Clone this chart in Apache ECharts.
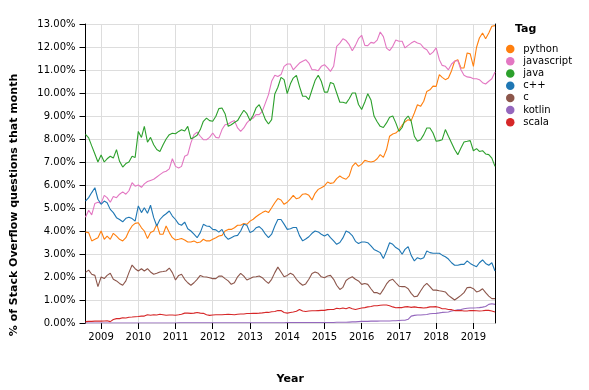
<!DOCTYPE html>
<html><head><meta charset="utf-8">
<script src="https://cdn.jsdelivr.net/npm/echarts@6/dist/echarts.min.js"></script>
<style>html,body{margin:0;padding:0;background:#fff}#c{width:589px;height:390px}</style>
</head><body><div id="c"></div>
<script>
// Monthly data, Aug 2008 .. Aug 2019 (% of Stack Overflow questions that month)
const START_YEAR = 2008, START_MONTH = 7;
const tags = ['python', 'javascript', 'java', 'c++', 'c', 'kotlin', 'scala'];
const yTickValues = [0,1,2,3,4,5,6,7,8,9,10,11,12,13];

const python = [3.95,3.93,3.57,3.64,3.71,
 4.0,3.64,3.78,3.64,3.9,3.78,3.64,3.57,3.71,4.0,
 4.22,4.33,4.36,4.14,4.0,3.67,3.93,4.0,4.29,3.86,
 3.86,4.22,3.93,3.71,3.61,3.64,3.67,3.61,3.52,3.52,
 3.57,3.49,3.52,3.64,3.57,3.57,3.64,3.71,3.78,3.81,
 4.0,4.07,4.07,4.14,4.25,4.25,4.33,4.29,4.43,4.51,
 4.62,4.72,4.8,4.87,4.8,5.01,5.23,5.41,5.35,5.16,
 5.25,5.4,5.55,5.4,5.45,5.6,5.62,5.55,5.35,5.64,
 5.81,5.88,5.96,6.13,6.07,6.1,6.28,6.39,6.3,6.25,
 6.4,6.81,6.96,6.81,6.91,7.07,7.03,7.0,7.03,7.14,
 7.32,7.2,7.54,8.12,8.22,8.26,8.4,8.6,8.74,8.84,
 8.8,9.13,9.49,9.42,9.64,10.07,10.14,10.3,10.29,10.8,
 10.68,10.58,10.65,10.97,11.38,11.45,11.09,11.09,11.74,11.7,
 11.16,11.99,12.39,12.61,12.36,12.61,12.9,12.93];

const javascript = [4.6,4.9,4.7,5.2,5.25,
 5.2,5.55,5.45,5.25,5.5,5.45,5.6,5.7,5.6,5.75,
 6.1,5.95,6.0,5.9,6.05,6.15,6.2,6.25,6.35,6.45,
 6.55,6.6,6.7,7.14,6.81,6.74,6.81,7.25,7.32,7.83,
 8.19,8.3,8.12,7.97,7.97,8.07,8.26,8.07,8.04,8.41,
 8.62,8.65,8.74,8.8,8.48,8.33,8.48,8.7,8.84,8.91,
 9.06,9.06,9.2,9.57,9.93,10.51,10.77,10.72,10.8,11.16,
 11.26,11.26,11.01,11.16,11.3,11.38,11.45,11.3,11.01,11.01,
 10.97,11.16,11.23,11.09,10.94,11.16,12.03,12.17,12.36,12.28,
 12.1,11.84,12.07,12.36,12.51,12.07,12.06,12.2,12.17,12.3,
 12.65,12.45,11.95,11.84,12.03,12.3,12.25,12.25,11.96,12.07,
 12.17,12.25,12.17,12.13,11.96,11.88,11.67,11.78,11.96,11.45,
 11.2,11.16,11.01,11.26,11.38,11.41,11.01,10.77,10.7,10.68,
 10.62,10.62,10.58,10.45,10.39,10.51,10.62,10.91];

const java = [8.2,8.05,7.7,7.35,7.0,
 7.3,7.0,7.14,7.25,7.17,7.54,7.03,6.78,6.93,7.0,
 7.25,7.2,8.33,8.07,8.55,7.86,8.07,7.75,7.54,7.46,
 7.75,8.0,8.19,8.25,8.23,8.33,8.4,8.35,8.55,8.01,
 8.07,8.16,8.41,8.77,8.91,8.8,8.77,8.99,9.32,9.35,
 9.1,8.55,8.62,8.72,8.8,9.03,9.25,9.1,8.8,9.03,
 9.35,9.49,9.2,8.84,8.65,8.84,9.96,10.25,10.68,10.58,
 9.97,10.4,10.65,10.77,10.29,9.86,9.86,9.71,10.14,10.54,
 10.77,10.51,10.04,10.04,10.46,10.4,10.0,9.6,9.6,9.55,
 9.75,10.0,10.0,9.5,9.28,9.61,9.97,9.7,9.0,8.75,
 8.55,8.5,8.7,8.95,9.0,8.7,8.33,8.5,8.84,9.0,
 8.77,8.12,7.9,7.97,8.19,8.48,8.48,8.26,7.9,7.93,
 7.97,8.41,8.12,7.83,7.54,7.32,7.61,7.87,7.9,7.93,
 7.49,7.58,7.46,7.49,7.35,7.32,7.17,6.81];

const cpp = [5.3,5.45,5.67,5.88,5.38,
 5.16,5.3,5.23,4.94,4.8,4.58,4.5,4.4,4.55,4.6,
 4.54,4.43,5.09,4.8,5.01,4.77,5.12,4.58,4.22,4.5,
 4.65,4.75,4.87,4.65,4.5,4.3,4.25,4.39,4.1,4.0,
 3.86,3.71,3.93,4.29,4.22,4.2,4.07,4.05,3.95,4.07,
 3.78,3.64,3.71,3.78,3.81,4.0,4.29,4.25,3.93,4.0,
 4.14,4.19,4.07,3.86,3.71,3.86,4.22,4.5,4.5,4.3,
 4.07,4.1,4.15,4.15,3.8,3.57,3.65,3.75,3.9,4.0,
 3.96,3.86,3.78,3.86,3.71,3.57,3.42,3.5,3.7,4.0,
 3.93,3.8,3.55,3.46,3.52,3.52,3.49,3.35,3.2,3.13,
 3.06,2.8,3.13,3.49,3.42,3.28,3.2,2.99,3.2,3.32,
 2.94,2.7,2.84,2.78,2.84,3.13,3.06,3.03,3.03,3.03,
 2.95,2.88,2.78,2.62,2.51,2.51,2.55,2.55,2.7,2.59,
 2.51,2.45,2.62,2.74,2.59,2.51,2.62,2.26];

const c = [2.2,2.3,2.12,2.07,1.58,
 2.0,1.93,2.07,2.16,1.9,1.83,1.72,1.64,1.83,2.19,
 2.52,2.36,2.26,2.36,2.26,2.36,2.22,2.12,2.16,2.22,
 2.24,2.26,2.39,2.19,1.87,2.07,2.12,1.9,1.75,1.64,
 1.75,1.9,2.07,2.01,2.0,1.97,1.93,1.93,2.04,2.04,
 1.93,1.83,1.68,1.75,2.01,2.16,2.04,1.87,1.93,2.0,
 2.01,2.04,1.97,1.83,1.72,1.9,2.19,2.43,2.22,2.01,
 2.07,2.16,2.1,1.9,1.75,1.64,1.7,1.9,2.15,2.22,
 2.16,2.01,1.97,2.04,2.07,1.9,1.64,1.46,1.55,1.85,
 1.95,2.01,1.9,1.83,1.68,1.72,1.68,1.49,1.32,1.32,
 1.25,1.46,1.7,1.85,1.9,1.75,1.6,1.58,1.58,1.49,
 1.29,1.14,1.17,1.39,1.6,1.72,1.58,1.43,1.43,1.4,
 1.38,1.35,1.2,1.1,1.0,1.1,1.2,1.32,1.54,1.55,
 1.49,1.35,1.39,1.49,1.32,1.17,1.06,1.06];

const kotlin = [0,0,0,0,0,0,0,0,0,0,
 0,0,0,0,0,0,0,0,0,0,
 0,0,0,0,0,0,0,0,0,0,
 0.01,0.01,0.01,0.01,0.01,0.01,0.01,0.01,0.01,0.01,
 0.01,0.01,0.01,0.01,0.01,0.01,0.01,0.01,0.01,0.01,
 0.01,0.01,0.01,0.01,0.01,0.01,0.01,0.01,0.01,0.01,
 0.01,0.01,0.01,0.01,0.01,0.02,0.02,0.02,0.02,0.02,
 0.02,0.02,0.02,0.02,0.02,0.02,0.02,0.02,0.02,0.02,
 0.02,0.03,0.03,0.03,0.03,0.04,0.05,0.05,0.06,0.07,
 0.07,0.07,0.08,0.08,0.08,0.09,0.09,0.09,0.09,0.1,
 0.1,0.11,0.12,0.12,0.16,0.3,0.33,0.35,0.35,0.36,
 0.37,0.4,0.41,0.42,0.44,0.46,0.47,0.48,0.52,0.54,
 0.57,0.59,0.62,0.64,0.65,0.65,0.66,0.67,0.69,0.72,
 0.81,0.84,0.81];

const scala = [0.06,0.07,0.07,0.08,0.08,
 0.08,0.09,0.1,0.06,0.15,0.19,0.19,0.23,0.22,0.25,
 0.26,0.27,0.28,0.3,0.3,0.36,0.34,0.36,0.35,0.38,
 0.36,0.34,0.35,0.35,0.34,0.36,0.38,0.43,0.43,0.42,
 0.43,0.46,0.43,0.42,0.36,0.33,0.35,0.36,0.36,0.36,
 0.37,0.38,0.37,0.36,0.38,0.39,0.39,0.41,0.41,0.42,
 0.42,0.43,0.44,0.46,0.46,0.49,0.5,0.54,0.54,0.46,
 0.43,0.46,0.48,0.51,0.59,0.52,0.5,0.52,0.53,0.53,
 0.54,0.55,0.55,0.58,0.59,0.59,0.64,0.62,0.65,0.62,
 0.67,0.62,0.59,0.62,0.65,0.67,0.7,0.72,0.75,0.75,
 0.77,0.78,0.78,0.75,0.7,0.66,0.67,0.67,0.7,0.71,
 0.68,0.7,0.68,0.67,0.65,0.67,0.7,0.7,0.71,0.67,
 0.62,0.62,0.59,0.58,0.54,0.54,0.54,0.52,0.52,0.54,
 0.54,0.53,0.52,0.53,0.55,0.55,0.52,0.48];

const valuesByTag = { 'python': python, 'javascript': javascript, 'java': java, 'c++': cpp, 'c': c, 'kotlin': kotlin, 'scala': scala };
const colorByTag = { 'python': '#ff7f0e', 'javascript': '#e377c2', 'java': '#2ca02c', 'c++': '#1f77b4', 'c': '#8c564b', 'kotlin': '#9467bd', 'scala': '#d62728' };

const monthTimes = python.map((_, i) => new Date(START_YEAR, START_MONTH + i, 1).getTime());
const FONT = '"DejaVu Sans", sans-serif';

const chart = echarts.init(document.getElementById('c'), null, { renderer: 'canvas' });
chart.setOption({
  animation: false,
  backgroundColor: '#fff',
  textStyle: { fontFamily: FONT },
  grid: { left: 85.5, right: 94, top: 24, bottom: 67, containLabel: false },
  title: { text: 'Tag', left: 515, top: 24, padding: 0,
    textStyle: { fontFamily: FONT, fontSize: 11, fontWeight: 'bold', color: '#000' } },
  legend: {
    orient: 'vertical', left: 506, top: 43, padding: 0, itemGap: 0,
    itemWidth: 16, itemHeight: 8.5, icon: 'circle',
    data: tags,
    textStyle: { fontFamily: FONT, fontSize: 10, color: '#000', lineHeight: 12.2 }
  },
  xAxis: {
    type: 'time',
    min: monthTimes[0], max: monthTimes[monthTimes.length - 1],
    splitNumber: 11, maxInterval: 365 * 24 * 3600 * 1000,
    name: 'Year', nameLocation: 'middle', nameGap: 51,
    nameTextStyle: { fontFamily: FONT, fontSize: 11, fontWeight: 'bold', color: '#000' },
    axisLine: { show: false },
    axisTick: { show: true, length: 6, lineStyle: { color: '#000', width: 1 } },
    axisLabel: { formatter: '{yyyy}', fontFamily: FONT, fontSize: 10, color: '#000', margin: 9,
      showMinLabel: false, showMaxLabel: false },
    splitLine: { show: true, lineStyle: { color: '#ddd', width: 1 } }
  },
  yAxis: [{
    type: 'value', min: yTickValues[0], max: yTickValues[yTickValues.length - 1], interval: 1,
    axisLine: { show: true, lineStyle: { color: '#000', width: 1 } },
    axisTick: { show: true, length: 6, lineStyle: { color: '#000', width: 1 } },
    axisLabel: { formatter: v => v.toFixed(2) + '%', fontFamily: FONT, fontSize: 10, color: '#000', margin: 10 },
    splitLine: { show: true, lineStyle: { color: '#ddd', width: 1 } }
  }, {
    type: 'value', position: 'right', min: 0, max: 13, interval: 1,
    axisLine: { show: true, lineStyle: { color: '#000', width: 1 } },
    axisTick: { show: false }, axisLabel: { show: false }, splitLine: { show: false }
  }],
  graphic: [{
    type: 'text', x: 14, y: 205, rotation: Math.PI / 2,
    style: { text: '% of Stack Overflow questions that month', font: 'bold 11px ' + FONT,
      fill: '#000', align: 'center', verticalAlign: 'middle' }
  }],
  series: tags.map(t => ({
    name: t, type: 'line', showSymbol: false, symbol: 'circle',
    itemStyle: { color: colorByTag[t] },
    lineStyle: { width: 1.1, color: colorByTag[t] },
    data: valuesByTag[t].map((v, i) => [monthTimes[i], v])
  }))
});
</script></body></html>
